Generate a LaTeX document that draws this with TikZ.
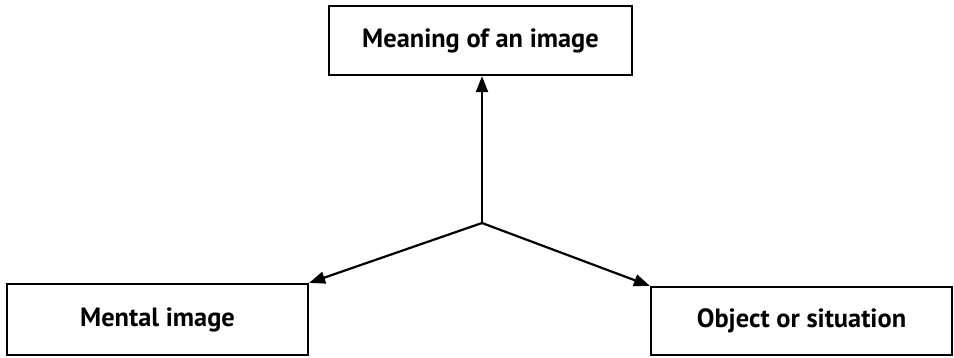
\documentclass[tikz,border=0pt]{standalone}
\usepackage{fontspec}
\setmainfont{PT Sans}
\usetikzlibrary{arrows.meta}
\begin{document}
\begin{tikzpicture}[x=1bp,y=-1bp,
  box/.style={draw,line width=2.2bp,inner sep=0pt,font=\bfseries\fontsize{26.5}{30}\selectfont},
  link/.style={line width=2.2bp,-{Triangle[length=16bp,width=12bp]}}]
\useasboundingbox (0,0) rectangle (954,357);
\node[box,minimum width=303bp,minimum height=69bp] (top) at (480.5,40.5) {Meaning of an image};
\node[box,minimum width=301bp,minimum height=71bp] (left) at (157.5,319.5) {Mental image};
\node[box,minimum width=301bp,minimum height=68bp] (right) at (801.5,321) {Object or situation};
\coordinate (c) at (482,223);
\draw[link] (c) -- (top.south -| c);
\draw[link] (c) -- (left.north east);
\draw[link] (c) -- (right.north west);
\end{tikzpicture}
\end{document}
